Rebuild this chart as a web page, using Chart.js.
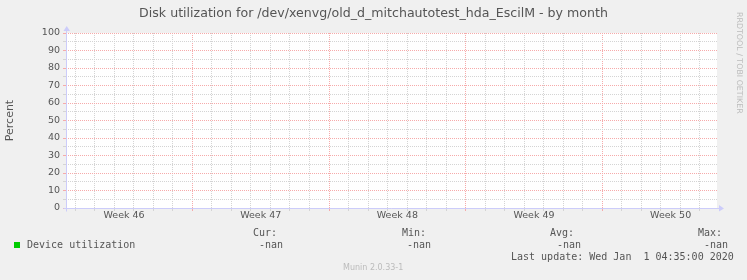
<!DOCTYPE html>
<html>
<head>
<meta charset="utf-8">
<script src="https://cdn.jsdelivr.net/npm/chart.js@4"></script>
<style>
  html, body { margin:0; padding:0; background:#f0f0f0; }
  #wrap { position:relative; width:747px; height:280px; overflow:hidden; }
  canvas { position:absolute; left:0; top:0; }
  .mono { position:absolute; font-family:'DejaVu Sans Mono', monospace; font-size:10px; line-height:10px; color:#555; white-space:pre; }
  #side { position:absolute; left:735px; top:12px; font-family:'DejaVu Sans', sans-serif; font-size:7.9px; color:#bbb; writing-mode:vertical-rl; white-space:pre; }
  #munin { position:absolute; left:343px; top:264px; font-family:'DejaVu Sans', sans-serif; font-size:8px; line-height:8px; color:#bbb; white-space:pre; }
  #swatch { position:absolute; left:14px; top:242px; width:6px; height:6px; background:#00cc00; }
</style>
</head>
<body>
<div id="wrap">
  <canvas id="c" width="747" height="280"></canvas>
  <div id="side">RRDTOOL / TOBI OETIKER</div>
  <div id="swatch"></div>
  <div class="mono" id="lgName" style="left:27px;top:240px;"></div>
  <div class="mono" id="hCur" style="left:253px;top:228px;"></div>
  <div class="mono" id="vCur" style="left:259px;top:240px;"></div>
  <div class="mono" id="hMin" style="left:402px;top:228px;"></div>
  <div class="mono" id="vMin" style="left:407px;top:240px;"></div>
  <div class="mono" id="hAvg" style="left:550px;top:228px;"></div>
  <div class="mono" id="vAvg" style="left:557px;top:240px;"></div>
  <div class="mono" id="hMax" style="left:698px;top:228px;"></div>
  <div class="mono" id="vMax" style="left:704px;top:240px;"></div>
  <div class="mono" id="lastUpd" style="left:511px;top:252px;"></div>
  <div id="munin"></div>
</div>
<script>
// ---- data ----
const chartTitle = 'Disk utilization for /dev/xenvg/old_d_mitchautotest_hda_EscilM - by month';
const yAxisTitle = 'Percent';
const weekLabels = ['Week 46', 'Week 47', 'Week 48', 'Week 49', 'Week 50'];
const yTickLabels = ['0', '10', '20', '30', '40', '50', '60', '70', '80', '90', '100'];
const seriesName = 'Device utilization';
const utilization = [null, null, null, null, null]; // all values are -nan
const statHeaders = ['Cur:', 'Min:', 'Avg:', 'Max:'];
const statValues = ['-nan', '-nan', '-nan', '-nan'];
const lastUpdate = 'Last update: Wed Jan  1 04:35:00 2020';
const footer = 'Munin 2.0.33-1';

// ---- legend text ----
document.getElementById('lgName').textContent = seriesName;
['hCur','hMin','hAvg','hMax'].forEach((id, i) => document.getElementById(id).textContent = statHeaders[i]);
['vCur','vMin','vAvg','vMax'].forEach((id, i) => document.getElementById(id).textContent = statValues[i]);
document.getElementById('lastUpd').textContent = lastUpdate;
document.getElementById('munin').textContent = footer;

const RED = 'rgb(246,170,170)';
const GRAY = 'rgb(212,212,212)';
const AXIS = 'rgb(204,204,250)';
const TXT = '#555';
const DAYS_PER_WEEK = 7;

const plotBg = {
  id: 'plotBg',
  beforeDraw(chart) {
    const {ctx, chartArea: a} = chart;
    ctx.save();
    ctx.fillStyle = '#ffffff';
    ctx.fillRect(a.left, a.top, a.right - a.left, a.bottom - a.top);
    ctx.restore();
  },
  afterDraw(chart) {
    const {ctx, chartArea: a} = chart;
    ctx.save();
    ctx.strokeStyle = AXIS; ctx.fillStyle = AXIS; ctx.lineWidth = 1;
    const x0 = Math.round(a.left) + 0.5, y0 = Math.round(a.bottom) + 0.5;
    ctx.beginPath();
    ctx.moveTo(x0, y0 + 3); ctx.lineTo(x0, a.top - 4);
    ctx.moveTo(x0 - 3, y0); ctx.lineTo(a.right + 3, y0);
    ctx.stroke();
    ctx.beginPath();
    ctx.moveTo(x0 - 3, a.top - 2); ctx.lineTo(x0 + 3.5, a.top - 2); ctx.lineTo(x0 + 0.25, a.top - 7); ctx.closePath(); ctx.fill();
    ctx.beginPath();
    ctx.moveTo(a.right + 2, y0 - 3.5); ctx.lineTo(a.right + 2, y0 + 3); ctx.lineTo(a.right + 7, y0); ctx.closePath(); ctx.fill();
    ctx.restore();
  }
};

new Chart(document.getElementById('c'), {
  type: 'line',
  data: {
    datasets: [{
      label: seriesName,
      data: utilization.map((v, i) => ({x: i * DAYS_PER_WEEK + 3.5, y: v})),
      borderColor: '#00cc00',
      backgroundColor: '#00cc00',
      borderWidth: 1,
      pointRadius: 0,
      spanGaps: false,
      xAxisID: 'x'
    }]
  },
  options: {
    responsive: false,
    animation: false,
    devicePixelRatio: 1,
    layout: { padding: { left: 0, right: 0, top: 0, bottom: 0 } },
    plugins: {
      legend: { display: false },
      tooltip: { enabled: false },
      title: {
        display: true,
        text: chartTitle,
        color: TXT,
        font: { family: "'DejaVu Sans'", size: 12.6, weight: 'normal' },
        padding: { top: 6, bottom: 11.9 }
      }
    },
    scales: {
      x: {
        type: 'linear',
        position: 'bottom',
        min: 0.525,
        max: 33.875,
        afterFit(s) { s.height = 0; },
        afterBuildTicks(s) {
          const t = [];
          for (let d = Math.ceil(s.min); d <= s.max; d++) t.push({value: d});
          s.ticks = t;
        },
        ticks: { display: false },
        grid: {
          drawTicks: true,
          tickLength: 3,
          color: (c) => (c.tick && c.tick.value % DAYS_PER_WEEK === 0) ? RED : GRAY,
          lineWidth: 1
        },
        border: { display: false, dash: [1, 1] }
      },
      xLabels: {
        type: 'linear',
        position: 'bottom',
        min: 0.525,
        max: 33.875,
        afterFit(s) { s.height = 72; },
        afterBuildTicks(s) {
          s.ticks = weekLabels.map((_, i) => ({value: i * DAYS_PER_WEEK + 3.5}));
        },
        ticks: {
          autoSkip: false,
          maxRotation: 0,
          padding: 2,
          color: TXT,
          font: { family: "'DejaVu Sans'", size: 9.5 },
          callback: (v, i) => weekLabels[i]
        },
        grid: { display: false, drawTicks: false },
        border: { display: false }
      },
      y: {
        min: 0,
        max: 100,
        afterFit(s) { s.width = 66; },
        afterBuildTicks(s) {
          const t = [];
          for (let v = 0; v <= 100; v += 5) t.push({value: v});
          s.ticks = t;
        },
        ticks: {
          autoSkip: false,
          padding: 3,
          color: TXT,
          font: { family: "'DejaVu Sans'", size: 9.5 },
          callback: (v) => (v % 10 === 0) ? yTickLabels[v / 10] : ''
        },
        grid: {
          drawTicks: true,
          tickLength: 3,
          color: (c) => (c.tick && c.tick.value % 10 === 0) ? RED : GRAY,
          lineWidth: 1
        },
        border: { display: false, dash: [1, 1] },
        title: {
          display: true,
          text: yAxisTitle,
          color: TXT,
          font: { family: "'DejaVu Sans'", size: 11, weight: 'normal' },
          padding: { top: 4, bottom: 0 }
        }
      },
      yRight: {
        type: 'linear',
        position: 'right',
        min: 0,
        max: 100,
        afterFit(s) { s.width = 30; },
        ticks: { display: false },
        grid: { display: false, drawTicks: false },
        border: { display: false }
      }
    }
  },
  plugins: [plotBg]
});
</script>
</body>
</html>
